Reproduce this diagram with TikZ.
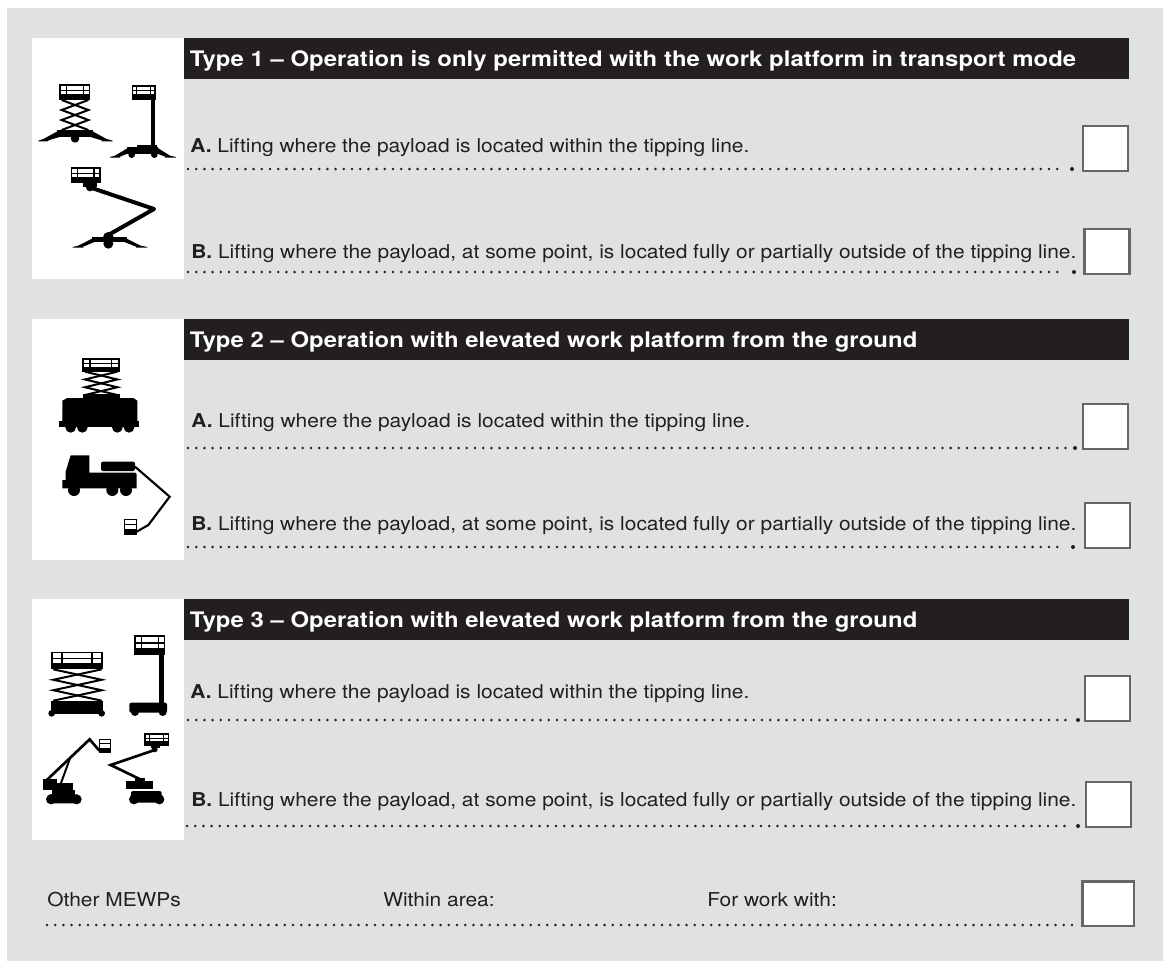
\documentclass[tikz,border=0pt]{standalone}
\usepackage{fontspec}
\setmainfont[FakeStretch=1.095]{TeX Gyre Heros}
\newfontfamily\hdfont[FakeStretch=1.12,LetterSpace=0.3]{TeX Gyre Heros Bold}
\definecolor{panel}{HTML}{E0E1E3}
\definecolor{ink}{HTML}{231F20}
\definecolor{boxline}{HTML}{666666}
\tikzset{
  x=0.75pt,y=-0.75pt,
  bodytext/.style={anchor=base west,inner sep=0pt,text=ink,font=\fontsize{14.34}{16}\selectfont},
  headtext/.style={anchor=base west,inner sep=0pt,text=white,font=\hdfont\fontsize{16}{18}\selectfont},
  headbar/.style={fill=ink,draw=none},
  iconpanel/.style={fill=white,draw=none},
  tickbox/.style={fill=white,draw=boxline,line width=2.2pt},
  dotrow/.style={line width=2.1pt,line cap=round,dash pattern=on 0pt off 6.15pt,draw=ink},
  enddot/.style={fill=ink,draw=none},
  arm/.style={draw=black,line join=miter,line cap=butt},
}
\newcommand{\bask}[4]{%
  \pgfmathsetmacro\bw{(#3-#1)*0.25}\pgfmathsetmacro\bh{(#4-#2)*0.25}%
  \begin{scope}[shift={(#1,#2)},x=\bw pt,y=-\bh pt]
    \fill[black] (0,0) rectangle (1,1);
    \fill[white] (.05,.1) rectangle (.2,.34);
    \fill[white] (.05,.42) rectangle (.2,.62);
    \fill[white] (.24,.1) rectangle (.76,.34);
    \fill[white] (.24,.42) rectangle (.76,.62);
    \fill[white] (.8,.1) rectangle (.95,.34);
    \fill[white] (.8,.42) rectangle (.95,.62);
  \end{scope}}
\newcommand{\baskopen}[4]{%
  \pgfmathsetmacro\bw{(#3-#1)*0.25}\pgfmathsetmacro\bh{(#4-#2)*0.25}%
  \begin{scope}[shift={(#1,#2)},x=\bw pt,y=-\bh pt]
    \fill[black] (0,0) rectangle (1,1);
    \fill[white] (.06,.05) rectangle (.94,.27);
    \fill[white] (.06,.33) rectangle (.94,.62);
  \end{scope}}
\newcommand{\scissor}[4]{%
  \pgfmathsetmacro\ym{(#4-#2)/3}%
  \draw[arm,line width=1.5pt] (#1,#2) -- (#3,#2+\ym) -- (#1,#2+2*\ym) -- (#3,#4);
  \draw[arm,line width=1.5pt] (#3,#2) -- (#1,#2+\ym) -- (#3,#2+2*\ym) -- (#1,#4);}
\begin{document}
\begin{tikzpicture}
\useasboundingbox (0,0) rectangle (1163,961);
\fill[white] (0,0) rectangle (1163,961);
\fill[panel] (7,8) rectangle (1163,961);
% Panels and header bars
\fill[iconpanel] (32,38) rectangle (184,279);
\fill[iconpanel] (32,319) rectangle (184,560);
\fill[iconpanel] (32,599) rectangle (184,840);
\fill[headbar] (184,38) rectangle (1129,79);
\fill[headbar] (184,319) rectangle (1129,360);
\fill[headbar] (184,599) rectangle (1129,640);
\node[headtext] (h1) at (189.5,66) {Type 1 – Operation is only permitted with the work platform in transport mode};
\node[headtext] (h2) at (189.5,347) {Type 2 – Operation with elevated work platform from the ground};
\node[headtext] (h3) at (189.5,627) {Type 3 – Operation with elevated work platform from the ground};
% Texts
\newcommand{\Atxt}{\textbf{A.} Lifting where the payload is located within the tipping line.}
\newcommand{\Btxt}{\textbf{B.} Lifting where the payload, at some point, is located fully or partially outside of the tipping line.}
\node[bodytext] (a1) at (190,152) {\Atxt};
\node[bodytext] (b1) at (191,258) {\Btxt};
\node[bodytext] (a2) at (191,427) {\Atxt};
\node[bodytext] (b2) at (191,530) {\Btxt};
\node[bodytext] (a3) at (190,698) {\Atxt};
\node[bodytext] (b3) at (191,806) {\Btxt};
\node[bodytext] (o1) at (47,906) {Other MEWPs};
\node[bodytext] (o2) at (383,906) {Within area:};
\node[bodytext] (o3) at (707,906) {For work with:};
% Dotted rows
\foreach \xa/\xb/\yy in {188/1062/169,188/1064/272,188/1066/448,188/1064/547,188/1068/720,187/1068/826,47/1073/925}{
  \draw[dotrow] (\xa,\yy) -- (\xb,\yy);
}
\foreach \xx/\yy in {1072/169,1074/272,1075/448,1073/547,1078/720,1078/826}{
  \fill[enddot] (\xx,\yy) circle (2);
}
% Check boxes
\draw[tickbox] (1083,126) rectangle (1128,171);
\draw[tickbox] (1084.5,229) rectangle (1129.5,274);
\draw[tickbox] (1083,404) rectangle (1128,449);
\draw[tickbox] (1085,503) rectangle (1130,548);
\draw[tickbox] (1085,676) rectangle (1130,721);
\draw[tickbox] (1086,782) rectangle (1131,827);
\draw[tickbox] (1082.5,881.5) rectangle (1134,926);
% Type 1 icons
\begin{scope}[shift={(20,30)},x=0.25pt,y=-0.25pt]
  \bask{118}{163}{211}{210}
  \scissor{125}{210}{205}{300}
  \fill[black] (112,300) rectangle (218,320);
  \fill[black] (165,325) circle (13);
  \fill[black] (114,303) -- (70,327) -- (55,332) -- (55,334) -- (85,334) -- (85,331) -- (122,320) -- cycle;
  \fill[black] (216,303) -- (260,327) -- (278,332) -- (278,334) -- (245,334) -- (245,331) -- (208,320) -- cycle;
  \bask{335}{165}{407}{210}
  \fill[black] (392,210) rectangle (406,345);
  \fill[black] (350,345) rectangle (412,352);
  \fill[black] (322,350) rectangle (415,372);
  \fill[black] (335,374) circle (10);
  \fill[black] (403,374) circle (10);
  \fill[black] (325,353) -- (285,377) -- (270,381) -- (270,383) -- (300,383) -- (300,380) -- (330,368) -- cycle;
  \fill[black] (412,353) -- (450,377) -- (468,381) -- (468,383) -- (435,383) -- (435,380) -- (405,368) -- cycle;
  \bask{152}{412}{242}{460}
  \fill[black] (190,458) rectangle (232,470);
  \fill[black] (210,472) circle (12);
  \draw[arm,line width=3pt,line join=round] (210,472) -- (402,537) -- (265,615);
  \fill[black] (215,622) rectangle (320,635);
  \fill[black] (265,622) circle (16);
  \fill[black] (265,641) circle (15);
  \fill[black] (220,624) -- (175,647) -- (158,651) -- (158,653) -- (190,653) -- (190,650) -- (228,634) -- cycle;
  \fill[black] (316,624) -- (362,647) -- (382,651) -- (382,653) -- (348,653) -- (348,650) -- (308,634) -- cycle;
\end{scope}
% Type 2 icons
\begin{scope}[shift={(20,310)},x=0.25pt,y=-0.25pt]
  \bask{185}{145}{300}{185}
  \scissor{195}{185}{292}{255}
  \fill[black] (190,253) rectangle (300,268);
  \fill[black] (127,272) -- (142,264) -- (340,264) -- (352,272) -- (352,335) -- (127,335) -- cycle;
  \fill[black] (118,333) rectangle (358,352);
  \foreach \wx in {152,187,292,327}{\fill[black] (\wx,352) circle (16);}
  \fill[black] (127,535) -- (127,510) -- (137,510) -- (137,485) -- (152,436) -- (208,436) -- (208,488) -- (346,488) -- (350,492) -- (350,535) -- cycle;
  \fill[black,rounded corners=1.5pt] (243,455) rectangle (345,483);
  \foreach \wx in {162,277,318}{\fill[black] (\wx,540) circle (18);}
  \draw[arm,line width=1.6pt] (345,470) -- (449,560) -- (385,645) -- (350,665);
  \baskopen{312}{628}{350}{675}
\end{scope}
% Type 3 icons
\begin{scope}[shift={(20,590)},x=0.25pt,y=-0.25pt]
  \bask{92}{185}{250}{238}
  \scissor{100}{238}{245}{332}
  \fill[black] (92,332) rectangle (248,372);
  \fill[black] (95,370) circle (10);
  \fill[black] (245,370) circle (10);
  \bask{343}{136}{436}{195}
  \fill[black] (416,195) rectangle (433,340);
  \fill[black,rounded corners=1.5pt] (328,338) rectangle (441,368);
  \fill[black] (345,366) circle (12);
  \fill[black] (428,366) circle (12);
  \draw[arm,line width=2pt] (72,578) -- (209,448) -- (238,482);
  \draw[arm,line width=1.5pt] (122,582) -- (150,505);
  \fill[black] (70,568) rectangle (110,600);
  \fill[black] (70,580) rectangle (158,600);
  \fill[black] (95,600) rectangle (165,618);
  \fill[black,rounded corners=1.5pt] (85,613) rectangle (175,640);
  \fill[black] (93,628) circle (15);
  \fill[black] (170,628) circle (15);
  \baskopen{237}{447}{273}{490}
  \bask{373}{430}{447}{467}
  \fill[black] (392,465) rectangle (420,475);
  \fill[black] (404,478) circle (9);
  \draw[arm,line width=2pt] (404,480) -- (272,525) -- (365,570);
  \fill[black] (318,573) rectangle (400,597);
  \fill[black] (345,565) rectangle (375,575);
  \fill[black,rounded corners=1.5pt] (333,603) rectangle (425,638);
  \fill[black] (342,628) circle (15);
  \fill[black] (418,628) circle (15);
\end{scope}
\end{tikzpicture}
\end{document}
